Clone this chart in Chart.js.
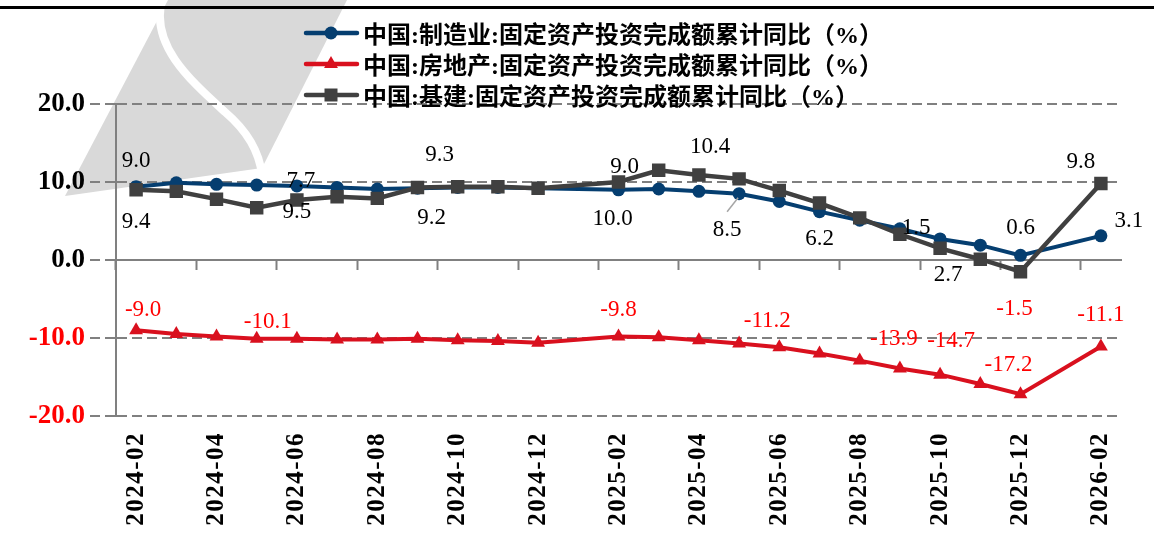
<!DOCTYPE html>
<html>

<head>
    <meta charset="utf-8" />
    <title>固定资产投资完成额累计同比</title>
    <style>
        body { margin: 0; background: #fff; }
        #wrap { position: relative; width: 1154px; height: 544px; overflow: hidden; }
        #topline { position: absolute; left: 0; top: 6px; width: 1154px; height: 3px; background: #000; z-index: 2; }
        #legend { position: absolute; left: 303px; top: 17px; z-index: 2;
                  font: bold 24px "Liberation Serif", "Noto Sans CJK SC"; color: #000; }
        .item { height: 31px; display: flex; align-items: center; white-space: nowrap; }
        .item canvas { margin-right: 3px; }
    </style>
</head>

<body>
    <div id="wrap">
        <div id="topline"></div>
        <div id="legend"></div>
        <canvas id="chart" width="1154" height="544"></canvas>
    </div>

    <script src="https://cdn.jsdelivr.net/npm/chart.js"></script>
    <script type="text/javascript">

        // meses (sin enero: los datos de enero-febrero salen juntos)
        const months = ['2024-02', '2024-03', '2024-04', '2024-05', '2024-06', '2024-07', '2024-08',
            '2024-09', '2024-10', '2024-11', '2024-12', '2025-01', '2025-02', '2025-03', '2025-04',
            '2025-05', '2025-06', '2025-07', '2025-08', '2025-09', '2025-10', '2025-11', '2025-12',
            '2026-01', '2026-02'];

        const manufacturing = [9.4, 9.9, 9.7, 9.6, 9.5, 9.3, 9.1, 9.2, 9.3, 9.3, 9.2, null,
            9.0, 9.1, 8.8, 8.5, 7.5, 6.2, 5.1, 4.0, 2.7, 1.9, 0.6, null, 3.1];
        const realEstate = [-9.0, -9.5, -9.8, -10.1, -10.1, -10.2, -10.2, -10.1, -10.3, -10.4, -10.6, null,
            -9.8, -9.9, -10.3, -10.7, -11.2, -12.0, -12.9, -13.9, -14.7, -15.9, -17.2, null, -11.1];
        const infrastructure = [9.0, 8.8, 7.8, 6.7, 7.7, 8.1, 7.9, 9.3, 9.4, 9.4, 9.2, null,
            10.0, 11.5, 10.9, 10.4, 8.9, 7.3, 5.4, 3.3, 1.5, 0.1, -1.5, null, 9.8];

        const yTicks = [20, 10, 0, -10, -20];

        const names = ['中国:制造业:固定资产投资完成额累计同比（%）',
            '中国:房地产:固定资产投资完成额累计同比（%）',
            '中国:基建:固定资产投资完成额累计同比（%）'];

        // qué puntos llevan etiqueta: [indice, dx, dy, linea guia]
        const manuLabels = [[0, 0, 35], [4, 0, 26], [7, 14, 30], [12, 6, -23], [15, -12, 36, true],
            [17, 0, 27], [20, 8, 36], [22, 0, -27], [24, 28, -15]];
        const realLabels = [[0, 7, -20], [3, 11, -17], [12, 0, -26], [16, -12, -26], [19, -6, -29],
            [20, 11, -34], [22, -12, -29], [24, 0, -32]];
        const infraLabels = [[0, 0, -29], [4, 4, -19], [7, 22, -33], [12, -6, 37], [15, -29, -32],
            [20, -24, -20], [22, -6, 37], [24, -20, -22]];

        const BLUE = '#053e70';
        const RED = '#d9101e';
        const GRAY = '#404040';
        const AXIS = '#808080';
        const serif = '"Liberation Serif", "Noto Sans CJK SC", serif';

        // leyenda en html con linea + marcador
        function swatch(color, style, r) {
            const c = document.createElement('canvas');
            c.width = 57; c.height = 22;
            const g = c.getContext('2d');
            g.strokeStyle = color; g.fillStyle = color; g.lineWidth = 4.5; g.lineCap = 'round';
            g.beginPath(); g.moveTo(3, 11); g.lineTo(54, 11); g.stroke();
            g.beginPath();
            if (style === 'circle') g.arc(28, 11, r, 0, Math.PI * 2);
            if (style === 'triangle') { g.moveTo(28, 11 - r); g.lineTo(28 + r * 0.866, 11 + r / 2); g.lineTo(28 - r * 0.866, 11 + r / 2); }
            if (style === 'rect') g.rect(28 - r, 11 - r, 2 * r, 2 * r);
            g.fill();
            return c;
        }
        const legend = document.getElementById('legend');
        [[BLUE, 'circle', 6.5], [RED, 'triangle', 8], [GRAY, 'rect', 6.5]].forEach((s, i) => {
            const row = document.createElement('div');
            row.className = 'item';
            row.appendChild(swatch(s[0], s[1], s[2]));
            const t = document.createElement('span');
            t.textContent = names[i];
            row.appendChild(t);
            legend.appendChild(row);
        });

        // marca de agua gris clara
        const watermark = {
            id: 'watermark',
            beforeDraw(chart) {
                const ctx = chart.ctx;
                ctx.save();
                ctx.fillStyle = '#d9d9d9';
                ctx.beginPath();
                ctx.moveTo(168, 0); ctx.lineTo(347, 0); ctx.lineTo(262, 168);
                ctx.lineTo(65, 196);
                ctx.closePath(); ctx.fill();
                // curva blanca en S
                ctx.strokeStyle = '#fff'; ctx.lineWidth = 8;
                ctx.beginPath();
                ctx.moveTo(162, 0);
                ctx.bezierCurveTo(150, 45, 190, 80, 225, 112);
                ctx.quadraticCurveTo(258, 140, 262, 175);
                ctx.stroke();
                ctx.restore();
            }
        };

        // etiquetas de valores
        const pointLabels = {
            id: 'pointLabels',
            afterDatasetsDraw(chart) {
                const ctx = chart.ctx;
                ctx.save();
                ctx.font = '23px ' + serif;
                ctx.textAlign = 'center';
                ctx.textBaseline = 'middle';
                chart.data.datasets.forEach((ds, di) => {
                    const meta = chart.getDatasetMeta(di);
                    ds.spots.forEach(([i, dx, dy, guide]) => {
                        const pt = meta.data[i];
                        const v = ds.data[i];
                        const x = pt.x + dx, y = pt.y + dy;
                        if (guide) {
                            ctx.strokeStyle = '#a6a6a6'; ctx.lineWidth = 1.5;
                            ctx.beginPath(); ctx.moveTo(pt.x - 1, pt.y + 4); ctx.lineTo(x, y - 18); ctx.stroke();
                        }
                        ctx.fillStyle = v < 0 ? '#ff0000' : '#000';
                        ctx.fillText(v.toFixed(1), x, y);
                    });
                });
                ctx.restore();
            }
        };

        // etiquetas del eje x giradas, una de cada dos
        const xLabels = {
            id: 'xLabels',
            afterDraw(chart) {
                const ctx = chart.ctx;
                const xs = chart.scales.x;
                ctx.save();
                ctx.font = 'bold 25px ' + serif;
                ctx.fillStyle = '#000';
                ctx.textAlign = 'right';
                ctx.textBaseline = 'middle';
                ctx.letterSpacing = '1.5px';
                months.forEach((m, i) => {
                    if (i % 2) return;
                    ctx.save();
                    ctx.translate(xs.getPixelForValue(i), chart.chartArea.bottom + 16);
                    ctx.rotate(-Math.PI / 2);
                    ctx.fillText(m, 0, 0);
                    ctx.restore();
                });
                ctx.restore();
            }
        };

        const ctx = document.getElementById('chart').getContext('2d');
        const myChart = new Chart(ctx, {
            type: 'line',
            data: {
                labels: months,
                datasets: [{
                    label: names[0],
                    data: manufacturing,
                    spots: manuLabels,
                    borderColor: BLUE, backgroundColor: BLUE,
                    borderWidth: 4, pointStyle: 'circle', pointRadius: 6.5,
                    pointBorderWidth: 0, order: 1
                }, {
                    label: names[1],
                    data: realEstate,
                    spots: realLabels,
                    borderColor: RED, backgroundColor: RED,
                    borderWidth: 4, pointStyle: 'triangle', pointRadius: 8,
                    pointBorderWidth: 0, order: 2
                }, {
                    label: names[2],
                    data: infrastructure,
                    spots: infraLabels,
                    borderColor: GRAY, backgroundColor: GRAY,
                    borderWidth: 4.5, pointStyle: 'rect', pointRadius: 9.5,
                    pointBorderWidth: 0, order: 0
                }]
            },
            options: {
                responsive: false,
                animation: false,
                spanGaps: true,
                layout: { padding: { top: 104, right: 33, bottom: 128, left: 0 } },
                plugins: { legend: { display: false }, tooltip: { enabled: false } },
                scales: {
                    x: {
                        type: 'category',
                        position: { y: 0 },
                        offset: true,
                        grid: {
                            offset: true, drawOnChartArea: false, drawTicks: true,
                            tickLength: 9, tickWidth: 2,
                            tickColor: c => (c.index % 2 === 0 ? AXIS : 'rgba(0,0,0,0)')
                        },
                        border: { display: true, color: AXIS, width: 2 },
                        ticks: { display: false, autoSkip: false }
                    },
                    y: {
                        min: -20, max: 20,
                        afterBuildTicks: s => { s.ticks = yTicks.map(v => ({ value: v })); },
                        afterFit: s => { s.width = 116; },
                        grid: {
                            color: AXIS, lineWidth: 2, tickLength: 26,
                            tickColor: AXIS, tickWidth: 2, tickBorderDash: [10, 5]
                        },
                        // solo las lineas de la cuadricula van a trazos, no el eje
                        border: { display: true, color: AXIS, width: 2, dash: c => (c.type === 'tick' ? [10, 5] : []) },
                        ticks: {
                            padding: 5,
                            font: { family: serif, size: 27, weight: 'bold' },
                            color: c => (c.tick.value < 0 ? '#ff0000' : '#000'),
                            callback: v => v.toFixed(1)
                        }
                    }
                }
            },
            plugins: [watermark, pointLabels, xLabels]
        });

    </script>

</body>

</html>
